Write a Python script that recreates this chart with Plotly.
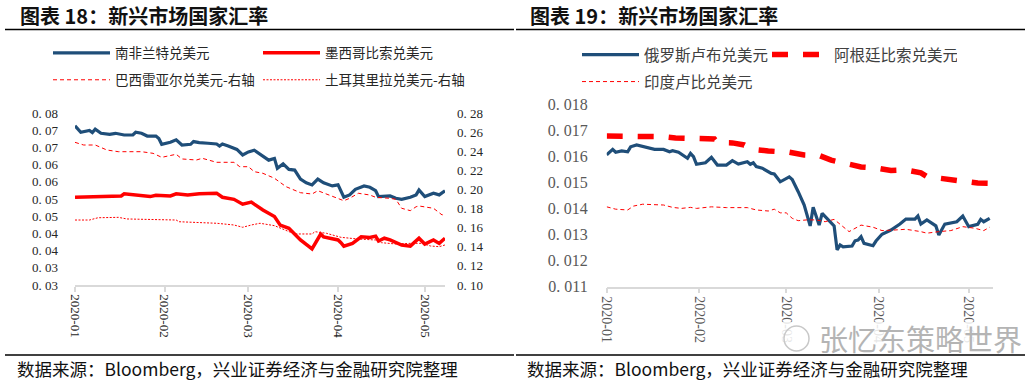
import plotly.graph_objects as go

W, H = 1030, 384

# ---------------- Left panel (图表18) ----------------
zar_dates = ["2020-01-01","2020-01-03","2020-01-06","2020-01-07","2020-01-08","2020-01-10","2020-01-13","2020-01-15",
             "2020-01-18","2020-01-21","2020-01-22","2020-01-24","2020-01-26","2020-01-29","2020-01-30","2020-01-31",
             "2020-02-03","2020-02-05","2020-02-07","2020-02-10","2020-02-11","2020-02-13","2020-02-16","2020-02-19",
             "2020-02-20","2020-02-21","2020-02-23","2020-02-26","2020-02-28","2020-03-01","2020-03-03","2020-03-05",
             "2020-03-08","2020-03-10","2020-03-11","2020-03-13","2020-03-15","2020-03-17","2020-03-19","2020-03-21",
             "2020-03-23","2020-03-25","2020-03-27","2020-03-30","2020-04-01","2020-04-03","2020-04-05","2020-04-07",
             "2020-04-10","2020-04-12","2020-04-14","2020-04-15","2020-04-19","2020-04-21","2020-04-23","2020-04-26",
             "2020-04-28","2020-04-29","2020-05-01","2020-05-04","2020-05-06","2020-05-08"]
zar_vals = [0.0763,0.0744,0.0749,0.0743,0.0753,0.0741,0.0738,0.0741,
            0.0736,0.0736,0.0744,0.0741,0.0733,0.0733,0.0726,0.0709,
            0.0715,0.0722,0.0707,0.0709,0.0717,0.0714,0.0712,0.0710,
            0.0704,0.0710,0.0704,0.0694,0.0678,0.0687,0.0692,0.0681,
            0.0663,0.0668,0.0639,0.0652,0.0636,0.0634,0.0608,0.0597,
            0.0591,0.0608,0.0597,0.0588,0.0591,0.0555,0.0562,0.0578,
            0.0588,0.0584,0.0574,0.0557,0.0559,0.0552,0.0549,0.0555,
            0.0562,0.0576,0.0557,0.0567,0.0562,0.0574]

mxn_dates = ["2020-01-01","2020-01-07","2020-01-17","2020-01-18","2020-01-21","2020-01-22","2020-01-27","2020-01-29",
             "2020-02-03","2020-02-05","2020-02-09","2020-02-13","2020-02-16","2020-02-19","2020-02-21","2020-02-25",
             "2020-02-28","2020-03-02","2020-03-03","2020-03-06","2020-03-10","2020-03-12","2020-03-15","2020-03-19",
             "2020-03-23","2020-03-26","2020-03-27","2020-04-01","2020-04-02","2020-04-03","2020-04-06","2020-04-09",
             "2020-04-12","2020-04-14","2020-04-15","2020-04-17","2020-04-19","2020-04-23","2020-04-26","2020-04-29",
             "2020-05-01","2020-05-04","2020-05-06","2020-05-08"]
mxn_vals = [0.0555,0.0557,0.0559,0.0565,0.0562,0.0562,0.0557,0.0561,
            0.0559,0.0565,0.0562,0.0565,0.0567,0.0567,0.0555,0.0549,
            0.0535,0.0541,0.0535,0.0518,0.0499,0.0474,0.0465,0.0431,
            0.0405,0.0448,0.0440,0.0431,0.0423,0.0413,0.0421,0.0440,
            0.0438,0.0442,0.0428,0.0436,0.0431,0.0416,0.0413,0.0436,
            0.0419,0.0431,0.0421,0.0436]

brl_dates = ["2020-01-01","2020-01-04","2020-01-08","2020-01-12","2020-01-16","2020-01-21","2020-01-24","2020-01-28",
             "2020-01-31","2020-02-05","2020-02-07","2020-02-12","2020-02-14","2020-02-19","2020-02-25","2020-02-27",
             "2020-03-01","2020-03-03","2020-03-06","2020-03-10","2020-03-14","2020-03-19","2020-03-23","2020-03-25",
             "2020-03-29","2020-04-03","2020-04-05","2020-04-08","2020-04-12","2020-04-14","2020-04-19","2020-04-21",
             "2020-04-23","2020-04-26","2020-04-28","2020-04-29","2020-05-04","2020-05-07","2020-05-08"]
brl_vals = [0.2493,0.2465,0.2465,0.2413,0.2395,0.2395,0.2395,0.2378,
            0.2336,0.2368,0.2319,0.2308,0.2326,0.2284,0.2284,0.2238,
            0.2238,0.2186,0.2169,0.2117,0.2029,0.1966,0.1952,0.1987,
            0.1942,0.1882,0.1907,0.1960,0.1942,0.1918,0.1907,0.1897,
            0.1803,0.1778,0.1819,0.1827,0.1803,0.1733,0.1750]

try_dates = ["2020-01-01","2020-01-06","2020-01-09","2020-01-16","2020-01-19","2020-01-29","2020-02-05","2020-02-06",
             "2020-02-12","2020-02-19","2020-02-25","2020-02-28","2020-03-02","2020-03-05","2020-03-10","2020-03-13",
             "2020-03-17","2020-03-23","2020-03-24","2020-03-28","2020-04-02","2020-04-08","2020-04-14","2020-04-16",
             "2020-04-21","2020-04-26","2020-04-30","2020-05-03","2020-05-06","2020-05-08"]
try_vals = [0.1680,0.1680,0.1704,0.1708,0.1691,0.1688,0.1680,0.1662,
            0.1656,0.1646,0.1628,0.1604,0.1628,0.1646,0.1621,0.1583,
            0.1534,0.1534,0.1558,0.1541,0.1499,0.1481,0.1471,0.1443,
            0.1429,0.1436,0.1436,0.1408,0.1401,0.1419]

left_y_ticks = [0.03,0.035,0.04,0.045,0.05,0.055,0.06,0.065,0.07,0.075,0.08]
left_y_text = ["0. 03","0. 03","0. 04","0. 04","0. 05","0. 05","0. 06","0. 06","0. 07","0. 07","0. 08"]
right_y_ticks = [0.10,0.12,0.14,0.16,0.18,0.20,0.22,0.24,0.26,0.28]
right_y_text = ["0. 10","0. 12","0. 14","0. 16","0. 18","0. 20","0. 22","0. 24","0. 26","0. 28"]

month_ticks = ["2020-01-01","2020-02-01","2020-03-01","2020-04-01","2020-05-01"]
month_text = ["2020-01","2020-02","2020-03","2020-04","2020-05"]

# ---------------- Right panel (图表19) ----------------
rub_dates = ["2020-01-01","2020-01-03","2020-01-04","2020-01-06","2020-01-08","2020-01-09","2020-01-11","2020-01-14",
             "2020-01-17","2020-01-20","2020-01-22","2020-01-23","2020-01-25","2020-01-28","2020-01-29","2020-01-30",
             "2020-01-31","2020-02-03","2020-02-05","2020-02-07","2020-02-10","2020-02-12","2020-02-14","2020-02-17",
             "2020-02-18","2020-02-19","2020-02-20","2020-02-22","2020-02-25","2020-02-26","2020-02-28","2020-03-02",
             "2020-03-03","2020-03-05","2020-03-07","2020-03-09","2020-03-10","2020-03-12","2020-03-13","2020-03-17",
             "2020-03-18","2020-03-19","2020-03-20","2020-03-23","2020-03-24","2020-03-25","2020-03-26","2020-03-27",
             "2020-03-30","2020-03-31","2020-04-02","2020-04-05","2020-04-08","2020-04-10","2020-04-13","2020-04-14",
             "2020-04-15","2020-04-17","2020-04-20","2020-04-21","2020-04-23","2020-04-27","2020-04-29","2020-05-01",
             "2020-05-04","2020-05-05","2020-05-06","2020-05-08"]
rub_vals = [0.01605,0.01626,0.01615,0.01620,0.01617,0.01636,0.01643,0.01636,
            0.01626,0.01626,0.01617,0.01621,0.01615,0.01592,0.01611,0.01598,
            0.01569,0.01575,0.01596,0.01566,0.01566,0.01583,0.01570,0.01579,
            0.01569,0.01575,0.01560,0.01554,0.01534,0.01532,0.01502,0.01521,
            0.01511,0.01464,0.01413,0.01333,0.01404,0.01336,0.01381,0.01333,
            0.01241,0.01260,0.01253,0.01256,0.01276,0.01279,0.01292,0.01266,
            0.01257,0.01275,0.01301,0.01317,0.01340,0.01359,0.01359,0.01371,
            0.01340,0.01356,0.01333,0.01298,0.01340,0.01349,0.01371,0.01330,
            0.01339,0.01358,0.01349,0.01362]

ars_dates = ["2020-01-01","2020-01-12","2020-01-20","2020-01-24","2020-02-01","2020-02-06","2020-02-07","2020-02-12",
             "2020-02-16","2020-02-19","2020-02-24","2020-03-02","2020-03-07","2020-03-12","2020-03-16","2020-03-20",
             "2020-03-26","2020-03-31","2020-04-05","2020-04-10","2020-04-15","2020-04-17","2020-04-23","2020-04-29",
             "2020-05-04","2020-05-08"]
ars_vals = [0.01677,0.01677,0.01675,0.01670,0.01669,0.01666,0.01652,0.01651,
            0.01643,0.01626,0.01620,0.01615,0.01605,0.01603,0.01585,0.01574,
            0.01559,0.01555,0.01545,0.01547,0.01536,0.01522,0.01513,0.01505,
            0.01497,0.01496]

inr_dates = ["2020-01-01","2020-01-04","2020-01-08","2020-01-10","2020-01-13","2020-01-20","2020-01-23","2020-01-26",
             "2020-01-29","2020-01-31","2020-02-05","2020-02-10","2020-02-17","2020-02-20","2020-02-24","2020-02-26",
             "2020-02-28","2020-03-01","2020-03-03","2020-03-05","2020-03-08","2020-03-11","2020-03-14","2020-03-17",
             "2020-03-22","2020-03-26","2020-03-30","2020-04-02","2020-04-06","2020-04-10","2020-04-15","2020-04-17",
             "2020-04-21","2020-04-25","2020-04-29","2020-05-03","2020-05-06","2020-05-08"]
inr_vals = [0.01406,0.01397,0.01394,0.01409,0.01416,0.01413,0.01404,0.01400,
            0.01404,0.01400,0.01406,0.01403,0.01403,0.01394,0.01390,0.01397,
            0.01383,0.01383,0.01362,0.01353,0.01356,0.01356,0.01349,0.01358,
            0.01311,0.01336,0.01328,0.01315,0.01317,0.01320,0.01311,0.01305,
            0.01311,0.01315,0.01330,0.01324,0.01315,0.01328]

rub_y_ticks = [0.011,0.012,0.013,0.014,0.015,0.016,0.017,0.018]
rub_y_text = ["0. 011","0. 012","0. 013","0. 014","0. 015","0. 016","0. 017","0. 018"]

BLUE = "#1F4E79"
RED = "#FF0000"
CJK = "Noto Sans CJK SC"
SERIF = "Liberation Serif"


def fx(x):
    return x / W


def fy(y):
    return 1 - y / H


fig = go.Figure()

fig.add_trace(go.Scatter(x=zar_dates, y=zar_vals, name="南非兰特兑美元", mode="lines",
                         line=dict(color=BLUE, width=3.2), xaxis="x", yaxis="y", legend="legend"))
fig.add_trace(go.Scatter(x=mxn_dates, y=mxn_vals, name="墨西哥比索兑美元", mode="lines",
                         line=dict(color=RED, width=3.5), xaxis="x", yaxis="y", legend="legend"))
fig.add_trace(go.Scatter(x=brl_dates, y=brl_vals, name="巴西雷亚尔兑美元-右轴", mode="lines",
                         line=dict(color=RED, width=1, dash="4px,3px"), xaxis="x", yaxis="y2", legend="legend2"))
fig.add_trace(go.Scatter(x=try_dates, y=try_vals, name="土耳其里拉兑美元-右轴", mode="lines",
                         line=dict(color=RED, width=1, dash="2px,1.5px"), xaxis="x", yaxis="y2", legend="legend2"))

fig.add_trace(go.Scatter(x=rub_dates, y=rub_vals, name="俄罗斯卢布兑美元", mode="lines",
                         line=dict(color=BLUE, width=3.2), xaxis="x2", yaxis="y3", legend="legend3"))
fig.add_trace(go.Scatter(x=ars_dates, y=ars_vals, name="阿根廷比索兑美元", mode="lines",
                         line=dict(color=RED, width=5.5, dash="16px,15px"), xaxis="x2", yaxis="y3", legend="legend3"))
fig.add_trace(go.Scatter(x=inr_dates, y=inr_vals, name="印度卢比兑美元", mode="lines",
                         line=dict(color=RED, width=1, dash="4px,3px"), xaxis="x2", yaxis="y3", legend="legend4"))

xcommon = dict(type="date", showgrid=False, showline=True, linecolor="#d9d9d9", linewidth=1.5,
               ticks="outside", ticklen=5, tickcolor="#d9d9d9", tickwidth=1.5, tickangle=90,
               tickvals=month_ticks, ticktext=month_text, zeroline=False, fixedrange=True, automargin=False)

leg_common = dict(orientation="h", bgcolor="rgba(0,0,0,0)", borderwidth=0, itemwidth=57,
                  entrywidthmode="pixels", xanchor="left", yanchor="middle", itemclick=False)

fig.update_layout(
    width=W, height=H, margin=dict(l=0, r=0, t=0, b=0, pad=0, autoexpand=False),
    paper_bgcolor="white", plot_bgcolor="white",
    showlegend=True,
    xaxis=dict(xcommon, domain=[fx(75), fx(445)], range=["2020-01-01", "2020-05-08"], anchor="y",
               tickfont=dict(family=SERIF, size=13, color="#262626")),
    yaxis=dict(domain=[fy(285), fy(113)], range=[0.03, 0.08], tickvals=left_y_ticks, ticktext=left_y_text,
               showgrid=False, zeroline=False, showline=False, ticks="", ticklabelstandoff=16, automargin=False,
               tickfont=dict(family=SERIF, size=13, color="#262626"), anchor="x"),
    yaxis2=dict(overlaying="y", side="right", range=[0.10, 0.28], tickvals=right_y_ticks, ticktext=right_y_text,
                showgrid=False, zeroline=False, showline=False, ticks="", ticklabelstandoff=11, automargin=False,
                tickfont=dict(family=SERIF, size=13, color="#262626"), anchor="x"),
    xaxis2=dict(xcommon, domain=[fx(606.7), fx(992.7)], range=["2020-01-01", "2020-05-09"], anchor="y3",
                tickfont=dict(family=SERIF, size=14, color="#595959")),
    yaxis3=dict(domain=[fy(286.7), fy(104)], range=[0.011, 0.018], tickvals=rub_y_ticks, ticktext=rub_y_text,
                showgrid=False, zeroline=False, showline=False, ticks="", ticklabelstandoff=18, automargin=False,
                tickfont=dict(family=SERIF, size=16, color="#595959"), anchor="x2"),
    legend=dict(leg_common, x=fx(48), y=fy(53), entrywidth=138,
                font=dict(family=CJK, size=13.5, color="#262626")),
    legend2=dict(leg_common, x=fx(48), y=fy(80), entrywidth=138,
                 font=dict(family=CJK, size=13.5, color="#262626")),
    legend3=dict(leg_common, x=fx(577), y=fy(55), entrywidth=118,
                 font=dict(family=CJK, size=15.5, color="#404040")),
    legend4=dict(leg_common, x=fx(577), y=fy(82), entrywidth=118,
                 font=dict(family=CJK, size=15.5, color="#404040")),
)

shapes = [
    dict(type="line", xref="paper", yref="paper", x0=fx(5), x1=fx(514), y0=fy(29.5), y1=fy(29.5),
         line=dict(color="black", width=1.5)),
    dict(type="line", xref="paper", yref="paper", x0=fx(516), x1=fx(1025), y0=fy(29.5), y1=fy(29.5),
         line=dict(color="black", width=1.5)),
    dict(type="line", xref="paper", yref="paper", x0=fx(5), x1=fx(514), y0=fy(355), y1=fy(355),
         line=dict(color="black", width=1.5)),
    dict(type="line", xref="paper", yref="paper", x0=fx(516), x1=fx(1025), y0=fy(355), y1=fy(355),
         line=dict(color="black", width=1.5)),
    dict(type="rect", xref="paper", yref="paper", x0=fx(780), x1=fx(1028), y0=fy(352), y1=fy(322),
         fillcolor="rgba(255,255,255,0.85)", line=dict(width=0), layer="above"),
    dict(type="circle", xref="paper", yref="paper", x0=fx(784), x1=fx(809), y0=fy(351), y1=fy(326),
         line=dict(color="#c8c8c8", width=1.5), layer="above"),
]

annotations = [
    dict(text="<b>图表 18：新兴市场国家汇率</b>", x=fx(18), y=fy(16), xref="paper", yref="paper",
         xanchor="left", yanchor="middle", showarrow=False, font=dict(family=CJK, size=20, color="#111111")),
    dict(text="<b>图表 19：新兴市场国家汇率</b>", x=fx(528), y=fy(16), xref="paper", yref="paper",
         xanchor="left", yanchor="middle", showarrow=False, font=dict(family=CJK, size=20, color="#111111")),
    dict(text="数据来源：Bloomberg，兴业证券经济与金融研究院整理", x=fx(15), y=fy(368), xref="paper", yref="paper",
         xanchor="left", yanchor="middle", showarrow=False, font=dict(family=CJK, size=17.5, color="#111111")),
    dict(text="数据来源：Bloomberg，兴业证券经济与金融研究院整理", x=fx(525), y=fy(368), xref="paper", yref="paper",
         xanchor="left", yanchor="middle", showarrow=False, font=dict(family=CJK, size=17.5, color="#111111")),
    dict(text="张忆东策略世界", x=fx(817), y=fy(338), xref="paper", yref="paper",
         xanchor="left", yanchor="middle", showarrow=False, font=dict(family=CJK, size=29, color="#b4b4b4")),
]

fig.update_layout(shapes=shapes, annotations=annotations)

fig.write_html("out.html", config={"displayModeBar": False},
               post_script="document.body.style.margin='0';document.body.style.padding='0';")
